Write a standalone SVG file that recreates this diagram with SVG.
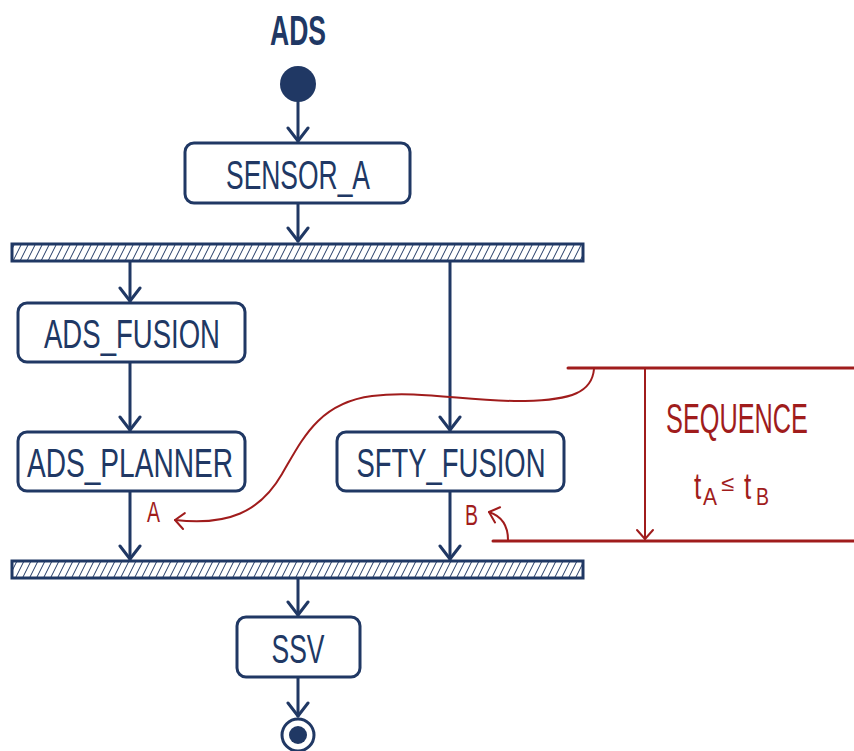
<svg xmlns="http://www.w3.org/2000/svg" width="854" height="751" viewBox="0 0 854 751">
  <style>
    .node rect { fill: #ffffff; stroke: #203864; stroke-width: 3; }
    .label { font-family: "Liberation Sans Narrow", "Liberation Sans", sans-serif; font-size: 40px; fill: #203864; text-anchor: middle; }
    .bar { fill: url(#hatch); stroke: #203864; stroke-width: 3; }
    .flow { fill: none; stroke: #203864; stroke-width: 3; stroke-linecap: round; }
    .red { fill: none; stroke: #a01c1c; stroke-linecap: round; }
    .redtext { font-family: "Liberation Sans Narrow", "Liberation Sans", sans-serif; fill: #a01c1c; }
  </style>
  <defs>
    <pattern id="hatch" patternUnits="userSpaceOnUse" width="7" height="14">
      <rect width="7" height="14" fill="#ffffff"/>
      <path d="M-3.5,14 L3.5,0 M3.5,14 L10.5,0" stroke="#203864" stroke-width="1"/>
    </pattern>
    <marker id="arrow" markerUnits="userSpaceOnUse" markerWidth="24" markerHeight="24" viewBox="0 0 24 24" refX="16" refY="12" orient="auto">
      <path d="M3,2 L16,12 L3,22" fill="none" stroke="#203864" stroke-width="3" stroke-linecap="round" stroke-linejoin="round"/>
    </marker>
    <marker id="redarrow" markerUnits="userSpaceOnUse" markerWidth="20" markerHeight="20" viewBox="0 0 20 20" refX="13" refY="10" orient="auto">
      <path d="M4,2 L13,10 L4,18" fill="none" stroke="#a01c1c" stroke-width="2" stroke-linecap="round" stroke-linejoin="round"/>
    </marker>
  </defs>

  <rect width="854" height="751" fill="#ffffff"/>

  <!-- swimlane title -->
  <text id="title" x="298" y="45" font-family="Liberation Sans, sans-serif" font-size="43" font-weight="bold" fill="#203864" text-anchor="middle" textLength="56" lengthAdjust="spacingAndGlyphs">ADS</text>

  <!-- connectors -->
  <g id="connectors">
    <path class="flow" d="M298,102 L298,141" marker-end="url(#arrow)"/>
    <path class="flow" d="M298,204 L298,241" marker-end="url(#arrow)"/>
    <path class="flow" d="M130,262 L130,301" marker-end="url(#arrow)"/>
    <path class="flow" d="M450,262 L450,430" marker-end="url(#arrow)"/>
    <path class="flow" d="M130,363 L130,430" marker-end="url(#arrow)"/>
    <path class="flow" d="M130,492 L130,559" marker-end="url(#arrow)"/>
    <path class="flow" d="M450,492 L450,559" marker-end="url(#arrow)"/>
    <path class="flow" d="M298,579 L298,615" marker-end="url(#arrow)"/>
    <path class="flow" d="M298,678 L298,716" marker-end="url(#arrow)"/>
  </g>

  <!-- start node -->
  <g id="start">
    <circle cx="298" cy="84" r="18" fill="#203864"/>
  </g>

  <g id="sensor_a" class="node">
    <rect x="185" y="143" width="225" height="60" rx="9"/>
    <text class="label" x="298" y="189" textLength="144" lengthAdjust="spacingAndGlyphs">SENSOR_A</text>
  </g>

  <g id="fork">
    <rect class="bar" x="12" y="244" width="571" height="17"/>
  </g>

  <g id="ads_fusion" class="node">
    <rect x="18" y="303" width="227" height="59" rx="9"/>
    <text class="label" x="132" y="348" textLength="176" lengthAdjust="spacingAndGlyphs">ADS_FUSION</text>
  </g>

  <g id="ads_planner" class="node">
    <rect x="18" y="432" width="227" height="59" rx="9"/>
    <text class="label" x="130" y="477" textLength="206" lengthAdjust="spacingAndGlyphs">ADS_PLANNER</text>
  </g>

  <g id="sfty_fusion" class="node">
    <rect x="337" y="432" width="227" height="59" rx="9"/>
    <text class="label" x="451" y="477" textLength="189" lengthAdjust="spacingAndGlyphs">SFTY_FUSION</text>
  </g>

  <g id="join">
    <rect class="bar" x="12" y="561" width="571" height="17"/>
  </g>

  <g id="ssv" class="node">
    <rect x="237" y="617" width="123" height="60" rx="9"/>
    <text class="label" x="298" y="663" textLength="53" lengthAdjust="spacingAndGlyphs">SSV</text>
  </g>

  <!-- final node -->
  <g id="end">
    <circle cx="298" cy="735" r="16" fill="#ffffff" stroke="#203864" stroke-width="3"/>
    <circle cx="298" cy="735" r="9" fill="#203864"/>
  </g>

  <!-- sequence constraint annotation -->
  <g id="sequence">
    <path class="red" stroke-width="3" d="M568,368 L854,368"/>
    <path class="red" stroke-width="3" d="M493,541 L854,541"/>
    <path class="red" stroke-width="2" d="M645,369 L645,539" marker-end="url(#redarrow)"/>
    <path class="red" stroke-width="2" d="M594,369 C592,392 572,400 525,401 C470,402 420,390 372,396 C318,403 302,440 282,474 C260,512 228,526 175,520" marker-end="url(#redarrow)"/>
    <path class="red" stroke-width="2" d="M508,540 C508,525 501,516 489,512" marker-end="url(#redarrow)"/>
    <text class="redtext" transform="translate(666,433) scale(1,1.4)" x="0" y="0" font-size="30" textLength="142" lengthAdjust="spacingAndGlyphs">SEQUENCE</text>
    <text class="redtext" transform="translate(694,499) scale(1,1.4)" x="0" y="0" font-size="26">t</text>
    <text class="redtext" x="703" y="505" font-size="24" textLength="14" lengthAdjust="spacingAndGlyphs">A</text>
    <text class="redtext" x="721" y="491" font-size="22" textLength="13" lengthAdjust="spacingAndGlyphs">≤</text>
    <text class="redtext" transform="translate(744,499) scale(1,1.4)" x="0" y="0" font-size="26">t</text>
    <text class="redtext" x="756" y="505" font-size="24" textLength="13" lengthAdjust="spacingAndGlyphs">B</text>
    <text class="redtext" x="147" y="522" font-size="30" textLength="13" lengthAdjust="spacingAndGlyphs">A</text>
    <text class="redtext" x="465" y="525" font-size="30" textLength="13" lengthAdjust="spacingAndGlyphs">B</text>
  </g>
</svg>
